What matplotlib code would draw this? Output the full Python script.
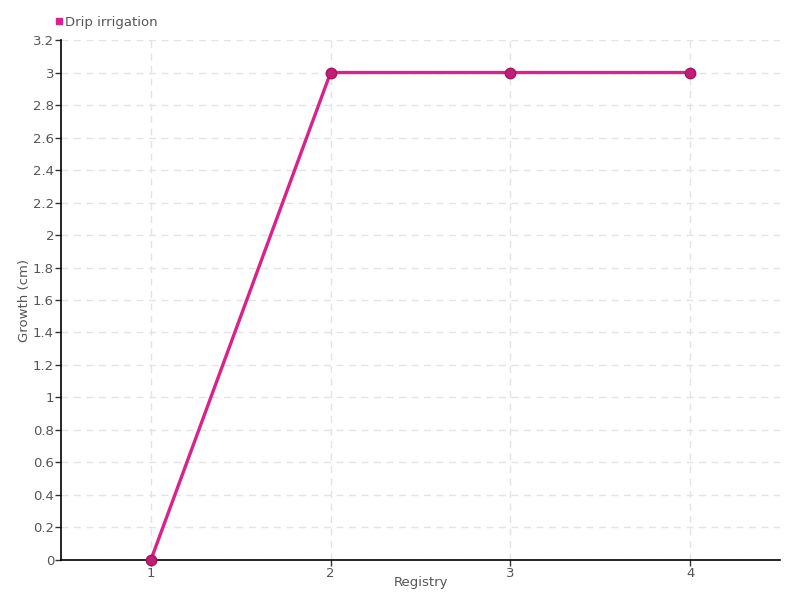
import matplotlib
matplotlib.use("Agg")
from matplotlib import pyplot as plt
from matplotlib.lines import Line2D

plt.rcParams['font.family'] = ['DejaVu Sans']

registry = [1, 2, 3, 4]
growth = [0, 3, 3, 3]
series_name = "Drip irrigation"
y_ticks = [0, 0.2, 0.4, 0.6, 0.8, 1, 1.2, 1.4, 1.6, 1.8, 2, 2.2, 2.4, 2.6, 2.8, 3, 3.2]

line_color = "#d9238a"
marker_color = "#c21e78"
text_color = "#555555"

fig = plt.figure(figsize=(8, 6), dpi=100)
ax = fig.add_axes([0.07625, 0.0667, 0.89875, 0.8666])

ax.plot(registry, growth, color=line_color, linewidth=2.4, zorder=3, clip_on=False)
ax.plot(registry, growth, linestyle="none", marker="o", markersize=7.5,
        markerfacecolor=marker_color, markeredgecolor="#a0185f",
        markeredgewidth=1, zorder=4, clip_on=False)

ax.set_xlim(0.5, 4.5)
ax.set_ylim(0, 3.2)
ax.set_xticks(registry)
ax.set_xticklabels([str(r) for r in registry])
ax.set_yticks(y_ticks)
ax.set_yticklabels([f"{v:g}" for v in y_ticks])

ax.grid(True, color="#e3e3e3", linestyle=(0, (5, 4)), linewidth=1)
ax.set_axisbelow(True)
for side in ["top", "right"]:
    ax.spines[side].set_visible(False)
for side in ["left", "bottom"]:
    ax.spines[side].set_color("black")
    ax.spines[side].set_linewidth(1.2)

ax.tick_params(axis="both", length=4, width=1, colors="#333333",
               labelcolor=text_color, labelsize=9.5)
ax.tick_params(axis="x", pad=1)
ax.tick_params(axis="y", pad=1)

ax.set_xlabel("Registry", color=text_color, fontsize=9.5, labelpad=-3)
ax.set_ylabel("Growth (cm)", color=text_color, fontsize=9.5)
ax.yaxis.set_label_coords(-0.042, 0.5)

handle = Line2D([], [], linestyle="none", marker="s", markersize=4.5,
                markerfacecolor=line_color, markeredgecolor=line_color)
fig.legend([handle], [series_name], loc="upper left",
           bbox_to_anchor=(0.053, 0.993), frameon=False, fontsize=9.5,
           handletextpad=0.1, handlelength=0.7, labelcolor=text_color)

fig.savefig("out.png", dpi=100)
